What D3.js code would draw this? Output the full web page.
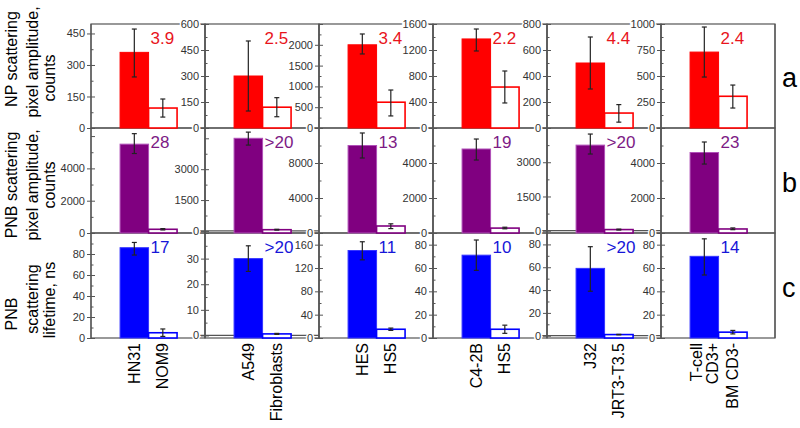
<!DOCTYPE html>
<html>
<head>
<meta charset="utf-8">
<script src="https://cdn.jsdelivr.net/npm/d3@7/dist/d3.min.js"></script>
<style>
  body { margin: 0; background: #fff; }
  svg { font-family: "Liberation Sans", Arial, sans-serif; }
</style>
</head>
<body>
<div id="chart"></div>
<script>
// cell lines: target (filled bar) and control (open bar) per column
var targetCells = [["HN31"], ["A549"], ["HES"], ["C4-2B"], ["J32"], ["T-cell", "CD3+"]];
var controlCells = [["NOM9"], ["Fibroblasts"], ["HS5"], ["HS5"], ["JRT3-T3.5"], ["BM CD3-"]];

// row a: NP scattering pixel amplitude
var npTarget   = [360, 300, 2000, 1370, 500, 730];
var npTargetLo = [243, 98, 1780, 1185, 300, 490];
var npTargetHi = [471, 502, 2260, 1523, 700, 971];
var npControl   = [95, 120, 620, 630, 115, 305];
var npControlLo = [52, 65, 290, 385, 45, 192];
var npControlHi = [138, 175, 913, 877, 180, 413];
var npRatio = ["3.9", "2.5", "3.4", "2.2", "4.4", "2.4"];
var npDomain = [[0, 495], [0, 600], [0, 2500], [0, 1600], [0, 800], [0, 1000]];
var npTicks = [[0, 150, 300, 450], [0, 150, 300, 450, 600], [0, 500, 1000, 1500, 2000],
               [0, 400, 800, 1200, 1600], [0, 200, 400, 600, 800], [0, 250, 500, 750, 1000]];

// row b: PNB scattering pixel amplitude
var pnbTarget   = [5500, 4500, 10000, 4800, 3750, 4600];
var pnbTargetLo = [4920, 4170, 8570, 4170, 3360, 3940];
var pnbTargetHi = [6150, 4800, 11430, 5370, 4235, 5200];
var pnbControl   = [230, 60, 800, 280, 50, 230];
var pnbControlLo = [190, 40, 500, 240, 30, 190];
var pnbControlHi = [270, 80, 1050, 330, 70, 290];
var pnbRatio = ["28", ">20", "13", "19", ">20", "23"];
var pnbDomain = [[0, 6500], [-100, 5000], [0, 12000], [0, 6000], [-100, 4500], [0, 6000]];
var pnbTicks = [[0, 2000, 4000], [0, 1500, 3000], [0, 4000, 8000],
                [0, 2000, 4000], [0, 1500, 3000], [0, 2000, 4000]];

// row c: PNB scattering lifetime, ns
var lifeTarget   = [86, 30, 150, 71, 59, 70];
var lifeTargetLo = [79, 25, 134, 58, 39, 54];
var lifeTargetHi = [91, 35, 165, 84, 78, 85];
var lifeControl   = [5, 0.6, 15, 7.5, 1, 5];
var lifeControlLo = [1.5, 0.4, 13, 4, 0.8, 3.5];
var lifeControlHi = [8.6, 0.8, 17, 11, 1.2, 6.5];
var lifeRatio = ["17", ">20", "11", "10", ">20", "14"];
var lifeDomain = [[0, 100], [-1, 40], [0, 180], [0, 90], [-2, 90], [0, 90]];
var lifeTicks = [[0, 20, 40, 60, 80], [0, 10, 20, 30], [0, 40, 80, 120, 160],
                 [0, 20, 40, 60, 80], [0, 20, 40, 60, 80], [0, 20, 40, 60, 80]];

var rowTitles = [["NP scattering", "pixel amplitude,", "counts"],
                 ["PNB scattering", "pixel amplitude,", "counts"],
                 ["PNB", "scattering", "lifetime, ns"]];
var rowLetters = ["a", "b", "c"];

var rows = [
  {t: npTarget, tLo: npTargetLo, tHi: npTargetHi, c: npControl, cLo: npControlLo, cHi: npControlHi,
   ratio: npRatio, domain: npDomain, ticks: npTicks, fill: "#ff0000", edge: "#ff0000", text: "#e8141c"},
  {t: pnbTarget, tLo: pnbTargetLo, tHi: pnbTargetHi, c: pnbControl, cLo: pnbControlLo, cHi: pnbControlHi,
   ratio: pnbRatio, domain: pnbDomain, ticks: pnbTicks, fill: "#800080", edge: "#b050b8", text: "#7d1a85"},
  {t: lifeTarget, tLo: lifeTargetLo, tHi: lifeTargetHi, c: lifeControl, cLo: lifeControlLo, cHi: lifeControlHi,
   ratio: lifeRatio, domain: lifeDomain, ticks: lifeTicks, fill: "#0000ff", edge: "#3535ff", text: "#1616d8"}
];

var width = 800, height = 428;
var left0 = 91, panelW = 114;
var rowEdges = [24, 128, 233, 338];
var frameColor = "#555";
// vertical centre of each title line, per row
var titleCenters = [[59, 62, 78], [185, 185, 185], [314, 299, 300]];
var titleX = [17, 38, 55];

var svg = d3.select("#chart").append("svg")
  .attr("width", width)
  .attr("height", height);

var gFrames = svg.append("g");
var gMarks = svg.append("g");
var gAxes = svg.append("g");

rows.forEach(function(row, r) {
  var yTop = rowEdges[r], yBot = rowEdges[r + 1];

  for (var p = 0; p < 6; p++) {
    var px = left0 + p * panelW;
    var y = d3.scaleLinear().domain(row.domain[p]).range([yBot, yTop]);
    var x = d3.scaleBand().domain(["t", "c"]).range([px + panelW * 0.255, px + panelW * 0.755]);

    // frame
    gFrames.append("rect")
      .attr("x", px).attr("y", yTop)
      .attr("width", panelW).attr("height", yBot - yTop)
      .attr("fill", "none")
      .attr("stroke", frameColor)
      .attr("stroke-width", 1.2);

    // zero line when the axis starts below zero
    if (row.domain[p][0] < 0) {
      gFrames.append("line")
        .attr("x1", px - 6).attr("x2", px + panelW)
        .attr("y1", y(0)).attr("y2", y(0))
        .attr("stroke", frameColor)
        .attr("stroke-width", 1.2);
    }

    var bars = [
      {k: "t", v: row.t[p], lo: row.tLo[p], hi: row.tHi[p]},
      {k: "c", v: row.c[p], lo: row.cLo[p], hi: row.cHi[p]}
    ];

    gMarks.selectAll(null)
      .data(bars)
      .enter().append("rect")
        .attr("x", function(d) { return x(d.k); })
        .attr("y", function(d) { return y(d.v); })
        .attr("width", x.bandwidth())
        .attr("height", function(d) { return yBot - y(d.v); })
        .attr("fill", function(d) { return d.k == "t" ? row.fill : "#fff"; })
        .attr("stroke", function(d) { return d.k == "t" ? row.edge : row.fill; })
        .attr("stroke-width", function(d) { return d.k == "t" ? 1 : 1.6; });

    // error bars
    var eb = gMarks.selectAll(null)
      .data(bars)
      .enter().append("g")
        .attr("transform", function(d) { return "translate(" + (x(d.k) + x.bandwidth() / 2) + ",0)"; });
    eb.append("line")
      .attr("y1", function(d) { return y(d.lo); })
      .attr("y2", function(d) { return y(d.hi); })
      .attr("stroke", "#222").attr("stroke-width", 1.2);
    eb.append("line")
      .attr("x1", -2.5).attr("x2", 2.5)
      .attr("y1", function(d) { return y(d.lo); })
      .attr("y2", function(d) { return y(d.lo); })
      .attr("stroke", "#222").attr("stroke-width", 1.2);
    eb.append("line")
      .attr("x1", -2.5).attr("x2", 2.5)
      .attr("y1", function(d) { return y(d.hi); })
      .attr("y2", function(d) { return y(d.hi); })
      .attr("stroke", "#222").attr("stroke-width", 1.2);

    // ratio label
    gMarks.append("text")
      .attr("x", x("c") + 2)
      .attr("y", yTop + 20)
      .attr("fill", row.text)
      .style("font-size", "17px")
      .text(row.ratio[p]);

    // axis ticks
    var labels = row.ticks[p];
    var step = labels[1] - labels[0];
    var major = d3.range(0, row.domain[p][1] + step * 0.01, step);
    var minor = d3.range(step / 2, row.domain[p][1], step);

    var axL = gAxes.append("g")
      .attr("transform", "translate(" + px + ",0)")
      .call(d3.axisLeft(y).tickValues(labels).tickFormat(d3.format("d")).tickSize(4).tickPadding(2));
    axL.select(".domain").remove();
    axL.selectAll("line").attr("stroke", frameColor);
    axL.selectAll("text")
      .attr("fill", "#333")
      .style("font-size", "11px")
      .style("font-family", "Liberation Sans, Arial, sans-serif")
      .attr("stroke", "#fff")
      .attr("stroke-width", 3)
      .attr("paint-order", "stroke");

    var axIn = gAxes.append("g")
      .attr("transform", "translate(" + px + ",0)")
      .call(d3.axisRight(y).tickValues(major).tickSize(4).tickFormat(""));
    axIn.select(".domain").remove();
    axIn.selectAll("line").attr("stroke", frameColor);

    var axMinor = gAxes.append("g")
      .attr("transform", "translate(" + px + ",0)")
      .call(d3.axisRight(y).tickValues(minor).tickSize(2.5).tickFormat(""));
    axMinor.select(".domain").remove();
    axMinor.selectAll("line").attr("stroke", frameColor);

    // redraw the left axis line above labels
    gAxes.append("line")
      .attr("x1", px).attr("x2", px)
      .attr("y1", yTop).attr("y2", yBot)
      .attr("stroke", frameColor).attr("stroke-width", 1.2);
  }

  // row title
  rowTitles[r].forEach(function(line, i) {
    svg.append("text")
      .attr("transform", "translate(" + titleX[i] + "," + titleCenters[r][i] + ") rotate(-90)")
      .attr("text-anchor", "middle")
      .style("font-size", "16px")
      .text(line);
  });

  // row letter
  svg.append("text")
    .attr("x", 782)
    .attr("y", (yTop + yBot) / 2 + 11)
    .style("font-size", "27px")
    .text(rowLetters[r]);
});

// right frame edge
svg.append("line")
  .attr("x1", left0 + 6 * panelW).attr("x2", left0 + 6 * panelW)
  .attr("y1", rowEdges[0]).attr("y2", rowEdges[3])
  .attr("stroke", frameColor).attr("stroke-width", 1.2);

// category labels under the bottom row
for (var p = 0; p < 6; p++) {
  var px = left0 + p * panelW;
  var xb = d3.scaleBand().domain(["t", "c"]).range([px + panelW * 0.255, px + panelW * 0.755]);
  [["t", targetCells[p]], ["c", controlCells[p]]].forEach(function(pair) {
    var cx = xb(pair[0]) + xb.bandwidth() / 2;
    var lines = pair[1];
    lines.forEach(function(line, i) {
      var off = (i - (lines.length - 1) / 2) * 16;
      svg.append("text")
        .attr("transform", "translate(" + (cx + off) + ",343) rotate(-90)")
        .attr("text-anchor", "end")
        .attr("dominant-baseline", "central")
        .style("font-size", "16px")
        .text(line);
    });
  });
}
</script>
</body>
</html>
